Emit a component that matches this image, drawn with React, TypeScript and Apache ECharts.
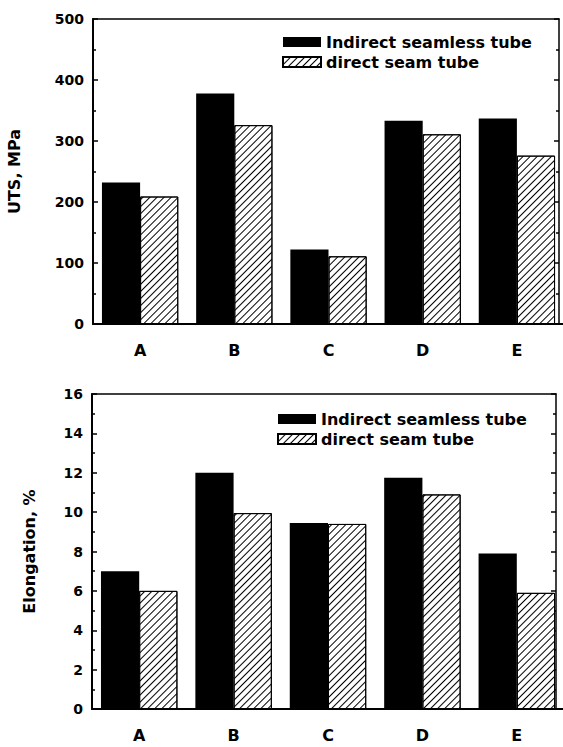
import React, { useEffect, useRef } from "react";
import * as echarts from "echarts";

const categories = ["A", "B", "C", "D", "E"];
const seriesNames = ["Indirect seamless tube", "direct seam tube"];
const utsIndirect = [232, 378, 122, 333, 337];
const utsDirect = [209, 326, 111, 311, 276];
const elongIndirect = [7.0, 12.0, 9.45, 11.75, 7.9];
const elongDirect = [6.0, 9.95, 9.4, 10.9, 5.9];
const utsAxis = { min: 0, max: 500, interval: 100 };
const elongAxis = { min: 0, max: 16, interval: 2 };

const FONT = "DejaVu Sans";

const hatch = {
  color: "#fff",
  borderColor: "#000",
  borderWidth: 1,
  decal: {
    symbol: "rect",
    symbolSize: 1,
    dashArrayX: [1, 0],
    dashArrayY: [1, 4],
    rotation: -Math.PI / 4,
    color: "#000",
  },
};

function mainY(range: any, name: string, nameGap: number, gridIndex: number) {
  return {
    type: "value",
    gridIndex,
    min: range.min,
    max: range.max,
    interval: range.interval,
    name,
    nameLocation: "middle",
    nameGap,
    nameTextStyle: { fontFamily: FONT, fontWeight: "bold", fontSize: 16, color: "#000" },
    axisLine: { show: true, onZero: false, lineStyle: { color: "#000", width: 2 } },
    axisTick: { show: true, inside: true, length: 5, lineStyle: { color: "#000", width: 1.5 } },
    minorTick: { show: true, splitNumber: 2, length: 3, lineStyle: { color: "#000", width: 1.5 } },
    splitLine: { show: false },
    axisLabel: { margin: 9, fontFamily: FONT, fontWeight: "bold", fontSize: 14, color: "#000" },
  };
}

function frameY(range: any, gridIndex: number) {
  return {
    type: "value",
    gridIndex,
    position: "right",
    min: range.min,
    max: range.max,
    interval: range.interval,
    axisLine: { show: true, onZero: false, lineStyle: { color: "#000", width: 1.5 } },
    axisTick: { show: true, inside: true, length: 5, lineStyle: { color: "#000", width: 1.5 } },
    minorTick: { show: true, splitNumber: 2, length: 3, lineStyle: { color: "#000", width: 1.5 } },
    splitLine: { show: false },
    axisLabel: { show: false },
  };
}

function mainX(gridIndex: number, margin: number) {
  return {
    type: "category",
    gridIndex,
    data: categories,
    axisLine: { show: true, onZero: false, lineStyle: { color: "#000", width: 2 } },
    axisTick: { show: false },
    axisLabel: { margin, fontFamily: FONT, fontWeight: "bold", fontSize: 16, color: "#000" },
  };
}

function frameX(gridIndex: number) {
  return {
    type: "value",
    gridIndex,
    position: "top",
    min: 0,
    max: 1,
    axisLine: { show: true, onZero: false, lineStyle: { color: "#000", width: 1.5 } },
    axisTick: { show: false },
    axisLabel: { show: false },
    splitLine: { show: false },
  };
}

function legend(left: number, top: number) {
  return {
    orient: "vertical",
    left,
    top,
    padding: 0,
    icon: "rect",
    itemWidth: 38,
    itemHeight: 10,
    itemGap: 4,
    data: seriesNames,
    textStyle: { fontFamily: FONT, fontWeight: "bold", fontSize: 16, color: "#000", lineHeight: 16 },
  };
}

export default function App() {
  const ref = useRef<HTMLDivElement>(null);
  useEffect(() => {
    if (!ref.current) return;
    const chart = echarts.init(ref.current, null, { renderer: "svg" });
    const barCommon = { barGap: "0%", barCategoryGap: "19%" };
    const g = (left: number, top: number, width: number, height: number) => ({
      left,
      top,
      width,
      height,
      containLabel: false,
      outerBoundsMode: "none",
    });
    chart.setOption({
      animation: false,
      backgroundColor: "#fff",
      grid: [
        g(93, 19, 471, 305),
        g(93, 19, 466, 305),
        g(92, 394, 472, 315),
        g(92, 394, 464, 315),
      ],
      xAxis: [mainX(0, 18), frameX(1), mainX(2, 18), frameX(3)],
      yAxis: [
        mainY(utsAxis, "UTS, MPa", 71, 0),
        frameY(utsAxis, 1),
        mainY(elongAxis, "Elongation, %", 55, 2),
        frameY(elongAxis, 3),
      ],
      legend: [legend(282, 34), legend(277, 411)],
      series: [
        { type: "bar", name: seriesNames[0], xAxisIndex: 0, yAxisIndex: 0, data: utsIndirect, itemStyle: { color: "#000" }, ...barCommon },
        { type: "bar", name: seriesNames[1], xAxisIndex: 0, yAxisIndex: 0, data: utsDirect, itemStyle: hatch, ...barCommon },
        { type: "bar", name: seriesNames[0], xAxisIndex: 2, yAxisIndex: 2, data: elongIndirect, itemStyle: { color: "#000" }, ...barCommon },
        { type: "bar", name: seriesNames[1], xAxisIndex: 2, yAxisIndex: 2, data: elongDirect, itemStyle: hatch, ...barCommon },
      ],
    });
    return () => chart.dispose();
  }, []);
  return (
    <div
      ref={ref}
      style={{ position: "absolute", left: 0, top: 0, width: 563, height: 747 }}
    />
  );
}
